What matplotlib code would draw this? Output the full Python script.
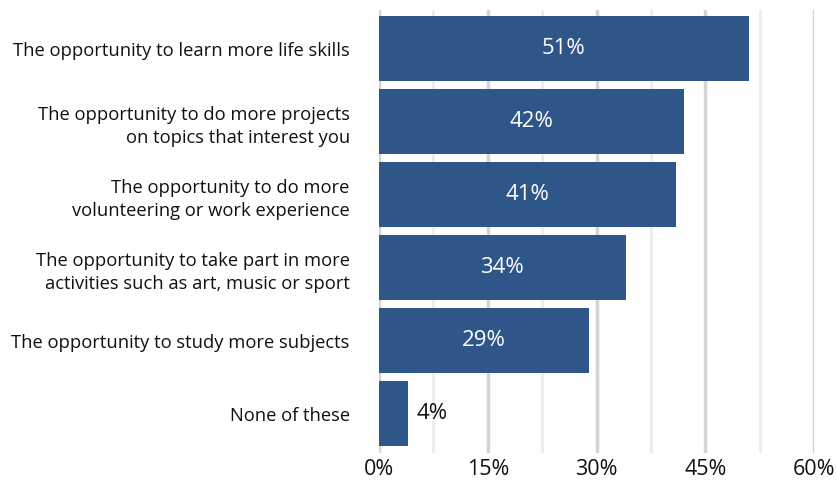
import matplotlib
matplotlib.use("Agg")
import matplotlib.pyplot as plt
from matplotlib.ticker import MultipleLocator

plt.rcParams["font.family"] = ["Open Sans", "DejaVu Sans"]

# ── Survey responses (share of respondents, %) ──
categories = [
    "The opportunity to learn more life skills",
    "The opportunity to do more projects\non topics that interest you",
    "The opportunity to do more\nvolunteering or work experience",
    "The opportunity to take part in more\nactivities such as art, music or sport",
    "The opportunity to study more subjects",
    "None of these",
]
values = [51, 42, 41, 34, 29, 4]
x_ticks = [0, 15, 30, 45, 60]

BAR_COLOR = "#2f5689"
TEXT_COLOR = "#111111"

fig = plt.figure(figsize=(8.36, 4.8), dpi=100)
ax = fig.add_axes([379 / 836, 27 / 480, 435 / 836, 443 / 480])

y = list(range(len(categories)))
ax.barh(y, values, height=0.89, color=BAR_COLOR, zorder=3)

for yi, v in zip(y, values):
    if v >= 10:
        ax.text(v / 2, yi, f"{v}%", ha="center", va="center",
                color="white", fontsize=16, zorder=4)
    else:
        ax.text(v + 1.2, yi, f"{v}%", ha="left", va="center",
                color=TEXT_COLOR, fontsize=16, zorder=4)

ax.set_xlim(0, 60)
ax.set_ylim(5.54, -0.53)
ax.set_yticks(y)
ax.set_yticklabels(categories, fontsize=13.2, color=TEXT_COLOR, linespacing=1.4)
ax.set_xticks(x_ticks)
ax.set_xticklabels([f"{t}%" for t in x_ticks], fontsize=15.5, color=TEXT_COLOR)
ax.xaxis.set_minor_locator(MultipleLocator(7.5))

ax.grid(axis="x", which="major", color="#d4d4d4", linewidth=2.5, zorder=0)
ax.grid(axis="x", which="minor", color="#ececec", linewidth=2.0, zorder=0)
ax.tick_params(axis="both", which="both", length=0)
ax.tick_params(axis="y", pad=21)
ax.tick_params(axis="x", pad=4)
for spine in ax.spines.values():
    spine.set_visible(False)

fig.savefig("out.png", dpi=100)
